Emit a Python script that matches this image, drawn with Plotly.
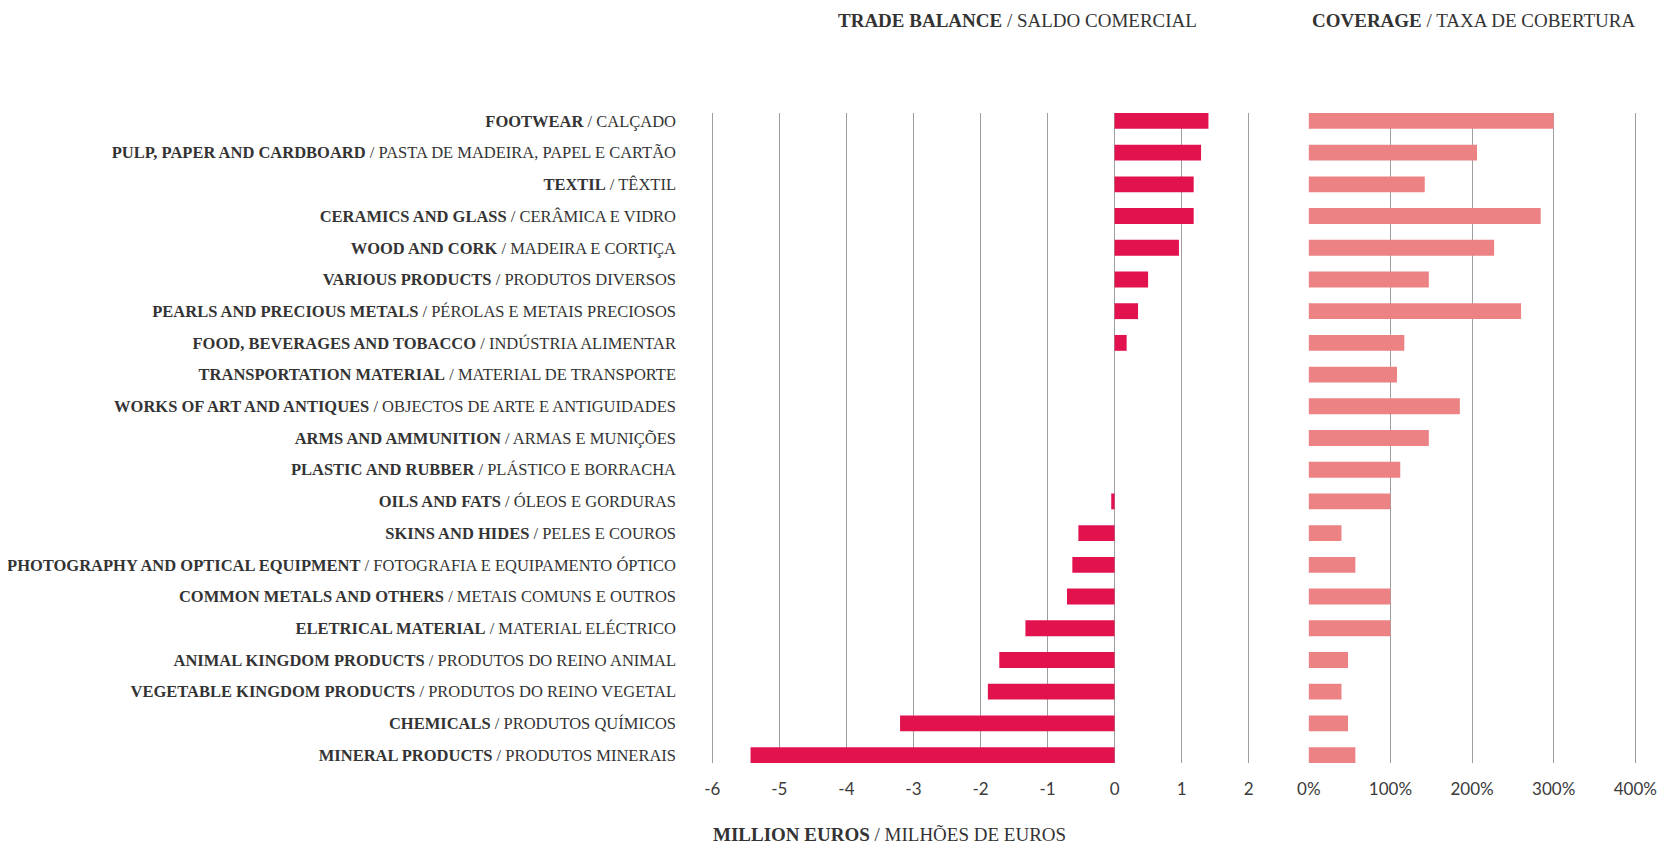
import plotly.graph_objects as go
from plotly.subplots import make_subplots

# categories, top to bottom
CAT_EN = [
    "FOOTWEAR", "PULP, PAPER AND CARDBOARD", "TEXTIL", "CERAMICS AND GLASS",
    "WOOD AND CORK", "VARIOUS PRODUCTS", "PEARLS AND PRECIOUS METALS",
    "FOOD, BEVERAGES AND TOBACCO", "TRANSPORTATION MATERIAL",
    "WORKS OF ART AND ANTIQUES", "ARMS AND AMMUNITION", "PLASTIC AND RUBBER",
    "OILS AND FATS", "SKINS AND HIDES", "PHOTOGRAPHY AND OPTICAL EQUIPMENT",
    "COMMON METALS AND OTHERS", "ELETRICAL MATERIAL", "ANIMAL KINGDOM PRODUCTS",
    "VEGETABLE KINGDOM PRODUCTS", "CHEMICALS", "MINERAL PRODUCTS",
]
CAT_PT = [
    "CALÇADO", "PASTA DE MADEIRA, PAPEL E CARTÃO", "TÊXTIL", "CERÂMICA E VIDRO",
    "MADEIRA E CORTIÇA", "PRODUTOS DIVERSOS", "PÉROLAS E METAIS PRECIOSOS",
    "INDÚSTRIA ALIMENTAR", "MATERIAL DE TRANSPORTE",
    "OBJECTOS DE ARTE E ANTIGUIDADES", "ARMAS E MUNIÇÕES", "PLÁSTICO E BORRACHA",
    "ÓLEOS E GORDURAS", "PELES E COUROS", "FOTOGRAFIA E EQUIPAMENTO ÓPTICO",
    "METAIS COMUNS E OUTROS", "MATERIAL ELÉCTRICO", "PRODUTOS DO REINO ANIMAL",
    "PRODUTOS DO REINO VEGETAL", "PRODUTOS QUÍMICOS", "PRODUTOS MINERAIS",
]
# trade balance, million euros
BALANCE = [1.40, 1.29, 1.18, 1.18, 0.96, 0.50, 0.35, 0.18, 0.0, 0.0, 0.0, 0.0,
           -0.05, -0.54, -0.63, -0.71, -1.33, -1.72, -1.89, -3.20, -5.43]
# coverage rate, %
COVERAGE = [300, 206, 142, 284, 227, 147, 260, 117, 108, 185, 147, 112,
            100, 40, 57, 100, 100, 48, 40, 48, 57]

BAL_TICKS = [-6, -5, -4, -3, -2, -1, 0, 1, 2]
COV_TICKS = [0, 100, 200, 300, 400]

# page has an 8px body margin, so the figure is 16px smaller than the window
OFF = 8
W, H = 1669 - 2 * OFF, 852 - 2 * OFF
FONT = "Liberation Serif"
TICK_FONT = "Lato"


def px(x):
    return (x - OFF) / W


def py(y):
    return 1 - (y - OFF) / H


labels = [f"<b>{en}</b> / {pt}" for en, pt in zip(CAT_EN, CAT_PT)]

fig = make_subplots(rows=1, cols=2, shared_yaxes=False)

fig.add_trace(go.Bar(
    x=BALANCE, y=labels, orientation="h", marker_color="#E2124F",
    marker_line_width=0, showlegend=False,
), row=1, col=1)
fig.add_trace(go.Bar(
    x=COVERAGE, y=labels, orientation="h", marker_color="#EC8283",
    marker_line_width=0, showlegend=False,
), row=1, col=2)

grid = dict(showgrid=True, gridcolor="#9e9e9e", gridwidth=1, zeroline=False,
            showline=False, ticks="", ticklabelstandoff=14, automargin=False,
            tickfont=dict(family=TICK_FONT, size=17, color="#3a3a3a"))

fig.update_xaxes(domain=[px(711), px(1250)], range=[-6.02, 2.02],
                 tickvals=BAL_TICKS, ticktext=[str(v) for v in BAL_TICKS],
                 **grid, row=1, col=1)
fig.update_xaxes(domain=[px(1308), px(1637)], range=[-1, 402],
                 tickvals=COV_TICKS, ticktext=[f"{v}%" for v in COV_TICKS],
                 **grid, row=1, col=2)

ydom = [py(763), py(113)]
fig.update_yaxes(domain=ydom, range=[20.25, -0.25], showgrid=False,
                 ticklabelstandoff=34, ticks="", automargin=False,
                 tickfont=dict(family=FONT, size=16.5, color="#333333"),
                 row=1, col=1)
fig.update_yaxes(domain=ydom, range=[20.25, -0.25], showgrid=False,
                 showticklabels=False, automargin=False, row=1, col=2)

title_font = dict(family=FONT, size=19, color="#333333")
fig.add_annotation(text="<b>TRADE BALANCE</b> / SALDO COMERCIAL",
                   x=px(1017), y=py(21), xref="paper", yref="paper",
                   xanchor="center", yanchor="middle", showarrow=False,
                   font=title_font)
fig.add_annotation(text="<b>COVERAGE</b> / TAXA DE COBERTURA",
                   x=px(1473), y=py(21), xref="paper", yref="paper",
                   xanchor="center", yanchor="middle", showarrow=False,
                   font=title_font)
fig.add_annotation(text="<b>MILLION EUROS</b> / MILHÕES DE EUROS",
                   x=px(711), y=0, xref="paper", yref="paper",
                   xanchor="left", yanchor="bottom", showarrow=False,
                   yshift=-3, font=title_font)

fig.update_layout(
    width=W, height=H, margin=dict(l=0, r=0, t=0, b=0),
    bargap=0.5, plot_bgcolor="white", paper_bgcolor="white",
)

fig.write_html("out.html")
